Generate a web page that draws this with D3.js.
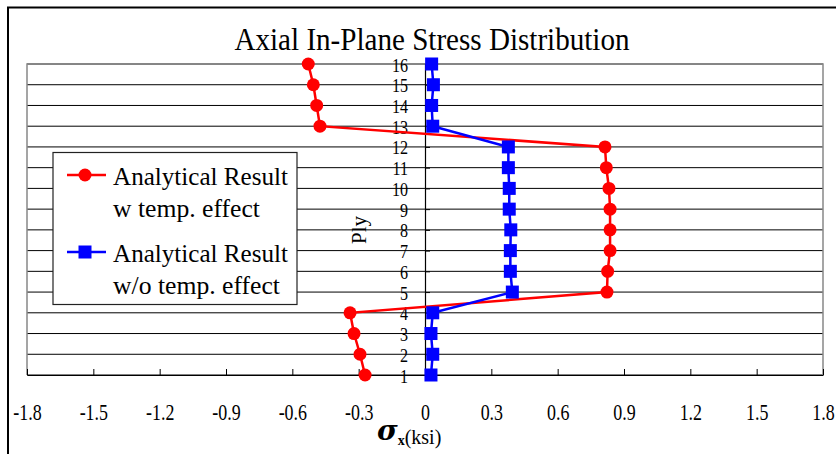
<!DOCTYPE html>
<html>
<head>
<meta charset="utf-8">
<script src="https://cdn.jsdelivr.net/npm/d3@7"></script>
<style>
  body { margin: 0; background: #fff; }
  svg { display: block; }
  text { font-family: "Liberation Serif", "Times New Roman", serif; fill: #000; }
</style>
</head>
<body>
<svg id="chart" width="836" height="454"></svg>
<script>
// Ply numbers through the laminate thickness
const plies = [1, 2, 3, 4, 5, 6, 7, 8, 9, 10, 11, 12, 13, 14, 15, 16];
// Axial in-plane stress (ksi) per ply, with thermal effect
const stressWithTemp = [-0.271, -0.294, -0.321, -0.339, 0.823, 0.826, 0.837, 0.837,
                        0.837, 0.832, 0.820, 0.814, -0.475, -0.490, -0.505, -0.528];
// Axial in-plane stress (ksi) per ply, without thermal effect
const stressWithoutTemp = [0.027, 0.035, 0.027, 0.035, 0.395, 0.386, 0.386, 0.388,
                           0.381, 0.381, 0.377, 0.377, 0.035, 0.030, 0.038, 0.030];
const xTicks = [-1.8, -1.5, -1.2, -0.9, -0.6, -0.3, 0, 0.3, 0.6, 0.9, 1.2, 1.5, 1.8];
const xTickLabels = ["-1.8", "-1.5", "-1.2", "-0.9", "-0.6", "-0.3", "0", "0.3", "0.6", "0.9", "1.2", "1.5", "1.8"];
const legendLabels = [["Analytical Result", "w temp. effect"], ["Analytical Result", "w/o temp. effect"]];
const chartTitle = "Axial In-Plane Stress Distribution";

const svg = d3.select("#chart");
const plot = { left: 27, right: 823, top: 64, bottom: 375 };

const x = d3.scaleLinear().domain([-1.8, 1.8]).range([plot.left, plot.right]);
const y = d3.scaleLinear().domain([1, 16]).range([plot.bottom, plot.top]);

// outer frame
svg.append("rect").attr("x", 8).attr("y", 7.5).attr("width", 900).attr("height", 600)
  .attr("fill", "#fff").attr("stroke", "#000").attr("stroke-width", 2);

// title
svg.append("text").attr("x", 432).attr("y", 50).attr("text-anchor", "middle")
  .attr("font-size", 31).attr("textLength", 395).attr("lengthAdjust", "spacingAndGlyphs")
  .text(chartTitle);

// horizontal gridlines, one per ply
svg.append("g").selectAll("line").data(plies).join("line")
  .attr("x1", plot.left).attr("x2", plot.right)
  .attr("y1", d => y(d)).attr("y2", d => y(d))
  .attr("stroke", "#000").attr("stroke-width", 1);

// plot border (left, top, right)
svg.append("path")
  .attr("d", `M${plot.left},${plot.bottom}V${plot.top}H${plot.right}V${plot.bottom}`)
  .attr("fill", "none").attr("stroke", "#888").attr("stroke-width", 1.5);

// x axis along the bottom, ticks pointing inward
const xAxis = d3.axisBottom(x).tickValues(xTicks)
  .tickFormat((d, i) => xTickLabels[i]).tickSizeInner(-6).tickSizeOuter(0);
const gx = svg.append("g").attr("transform", `translate(0,${plot.bottom})`).call(xAxis);
gx.select(".domain").attr("stroke", "#000").attr("stroke-width", 1.2);
gx.selectAll(".tick line").attr("stroke", "#000");
gx.selectAll(".tick text").attr("y", 45).attr("dy", 0)
  .attr("font-size", 23).attr("font-family", "Liberation Serif")
  .attr("transform", "scale(0.78,1)");

// y axis at zero stress
const yAxis = d3.axisLeft(y).tickValues(plies).tickFormat(d3.format("d"))
  .tickSizeInner(-5).tickSizeOuter(0).tickPadding(19.5);
const gy = svg.append("g").attr("transform", `translate(${x(0)},0)`).call(yAxis);
gy.select(".domain").attr("stroke", "#000").attr("stroke-width", 1.2);
gy.selectAll(".tick line").attr("stroke", "#000");
gy.selectAll(".tick text").attr("dy", "0.38em")
  .attr("font-size", 18.5).attr("font-family", "Liberation Serif")
  .attr("transform", "scale(0.87,1)");

// axis titles
svg.append("text").attr("transform", "translate(366,230) rotate(-90)")
  .attr("text-anchor", "middle").attr("font-size", 21).text("Ply");

const xt = svg.append("text").attr("x", 377).attr("y", 440);
xt.append("tspan").attr("font-size", 28).attr("font-weight", "bold").attr("font-style", "italic")
  .attr("font-family", "DejaVu Serif").text("σ");
xt.append("tspan").attr("font-size", 14).attr("font-weight", "bold").attr("dy", 5).text("x");
xt.append("tspan").attr("font-size", 20).attr("dy", -1).text("(ksi)");

// series
const series = [
  { values: stressWithTemp, color: "#ff0000", marker: "circle" },
  { values: stressWithoutTemp, color: "#0000ff", marker: "square" }
];
const line = d3.line().x(d => x(d[0])).y(d => y(d[1]));

series.forEach(s => {
  const pts = plies.map((p, i) => [s.values[i], p]);
  const g = svg.append("g");
  g.append("path").attr("d", line(pts)).attr("fill", "none")
    .attr("stroke", s.color).attr("stroke-width", 2.5);
  if (s.marker === "circle") {
    g.selectAll("circle").data(pts).join("circle")
      .attr("cx", d => x(d[0])).attr("cy", d => y(d[1])).attr("r", 6.5).attr("fill", s.color);
  } else {
    g.selectAll("rect").data(pts).join("rect")
      .attr("x", d => x(d[0]) - 6.5).attr("y", d => y(d[1]) - 6.5)
      .attr("width", 13).attr("height", 13).attr("fill", s.color);
  }
});

// legend
const lg = svg.append("g");
lg.append("rect").attr("x", 53).attr("y", 152.5).attr("width", 244).attr("height", 152)
  .attr("fill", "#fff").attr("stroke", "#222").attr("stroke-width", 1.2);
const legendRows = [175, 252];
series.forEach((s, i) => {
  const cy = legendRows[i];
  lg.append("line").attr("x1", 67).attr("x2", 106).attr("y1", cy).attr("y2", cy)
    .attr("stroke", s.color).attr("stroke-width", 2.5);
  if (s.marker === "circle") {
    lg.append("circle").attr("cx", 85).attr("cy", cy).attr("r", 6.5).attr("fill", s.color);
  } else {
    lg.append("rect").attr("x", 78.5).attr("y", cy - 6.5).attr("width", 13).attr("height", 13).attr("fill", s.color);
  }
  lg.append("text").attr("x", 113).attr("y", cy + 10).attr("font-size", 25)
    .attr("textLength", 175).attr("lengthAdjust", "spacingAndGlyphs").text(legendLabels[i][0]);
  lg.append("text").attr("x", 113).attr("y", cy + 42).attr("font-size", 25)
    .attr("textLength", i === 0 ? 147 : 167).attr("lengthAdjust", "spacingAndGlyphs").text(legendLabels[i][1]);
});
</script>
</body>
</html>
